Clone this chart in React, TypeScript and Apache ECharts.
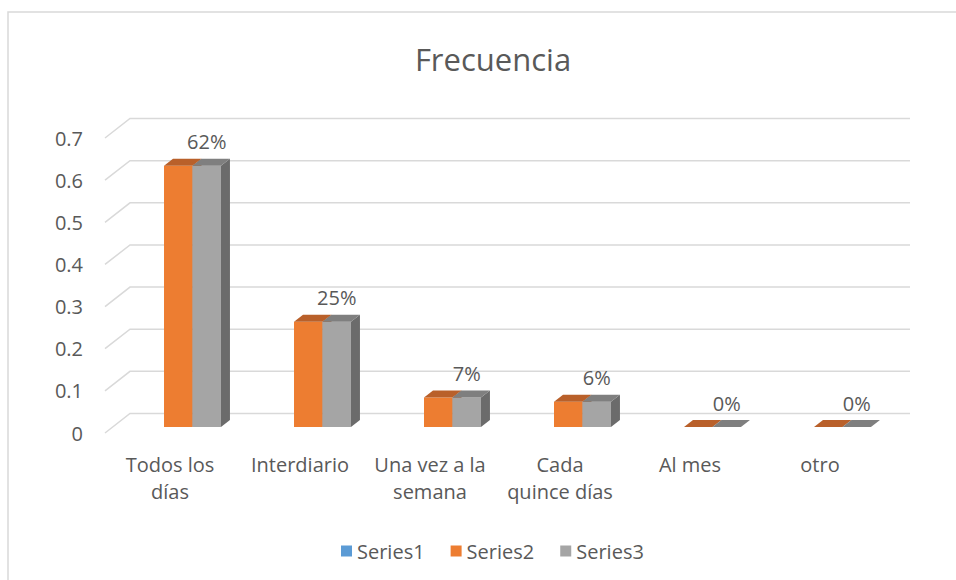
import React, { useEffect, useRef } from "react";
import * as echarts from "echarts";

const categories = ["Todos los\ndías", "Interdiario", "Una vez a la\nsemana", "Cada\nquince días", "Al mes", "otro"];
const series1Values: (number | null)[] = [null, null, null, null, null, null];
const series2Values = [0.62, 0.25, 0.07, 0.06, 0, 0];
const series3Values = [0.62, 0.25, 0.07, 0.06, 0, 0];
const yTicks = [0, 0.1, 0.2, 0.3, 0.4, 0.5, 0.6, 0.7];
const seriesNames = ["Series1", "Series2", "Series3"];

const FONT = "Open Sans";
const TEXT = "#595959";
const GRID_LINE = "#D9D9D9";
const DEPTH_X = 25;
const DEPTH_Y = 19.5;
const BAR_DX = 8.25;
const BAR_DY = -6;
const BAR_DEPTH_X = 9;
const BAR_DEPTH_Y = 7;

const palettes = [
  { front: "#5B9BD5", top: "#41719C", side: "#2E5F8C" },
  { front: "#ED7D31", top: "#B9602A", side: "#AE5A21" },
  { front: "#A5A5A5", top: "#7F7F7F", side: "#6B6B6B" },
];

function makeBarRenderer(slot: number, withLabel: boolean) {
  return (params: any, api: any) => {
    const v = api.value(1);
    if (v === null || v === undefined || isNaN(v)) return null;
    const idx = api.value(0);
    const bandW = api.size([1, 0])[0];
    const slotW = bandW * 0.219;
    const base = api.coord([idx, 0]);
    const topPt = api.coord([idx, v]);
    const cx = base[0] + BAR_DX;
    const x0 = cx - 1.5 * slotW + slot * slotW;
    const x1 = x0 + slotW;
    const yb = base[1] + BAR_DY;
    const yt = topPt[1] + BAR_DY;
    const pal = palettes[slot];
    const children: any[] = [];
    if (yb - yt > 0.01) {
      children.push({
        type: "rect",
        shape: { x: x0, y: yt, width: slotW, height: yb - yt },
        style: { fill: pal.front },
      });
      children.push({
        type: "polygon",
        shape: { points: [[x1, yt], [x1 + BAR_DEPTH_X, yt - BAR_DEPTH_Y], [x1 + BAR_DEPTH_X, yb - BAR_DEPTH_Y], [x1, yb]] },
        style: { fill: pal.side },
      });
    }
    children.push({
      type: "polygon",
      shape: { points: [[x0, yt], [x0 + BAR_DEPTH_X, yt - BAR_DEPTH_Y], [x1 + BAR_DEPTH_X, yt - BAR_DEPTH_Y], [x1, yt]] },
      style: { fill: pal.top },
    });
    if (withLabel) {
      children.push({
        type: "text",
        style: {
          x: (x0 + x1) / 2,
          y: yt - 24,
          text: Math.round(v * 100) + "%",
          align: "center",
          verticalAlign: "middle",
          fontSize: 20,
          fontFamily: FONT,
          fill: TEXT,
        },
      });
    }
    return { type: "group", children };
  };
}

export default function App() {
  const ref = useRef<HTMLDivElement>(null);
  useEffect(() => {
    if (!ref.current) return;
    const chart = echarts.init(ref.current, null, { renderer: "svg" });
    const barData = (vals: (number | null)[]) => vals.map((v, i) => [i, v]);
    chart.setOption({
      animation: false,
      backgroundColor: "#fff",
      textStyle: { fontFamily: FONT },
      title: {
        text: "Frecuencia",
        left: 488,
        top: 38,
        textAlign: "center",
        textStyle: { fontSize: 31, fontWeight: "normal", color: TEXT, fontFamily: FONT },
      },
      legend: {
        data: seriesNames,
        top: 536,
        left: 336,
        itemWidth: 11,
        itemHeight: 11,
        itemGap: 26,
        icon: "rect",
        textStyle: { fontSize: 20, color: TEXT, fontFamily: FONT },
      },
      graphic: [
        {
          type: "rect",
          shape: { x: 8, y: 12, width: 1000, height: 700 },
          style: { fill: "none", stroke: GRID_LINE, lineWidth: 1.5 },
          silent: true,
        },
      ],
      grid: { left: 105, right: 71, top: 138, bottom: 147 },
      xAxis: {
        type: "category",
        data: categories,
        axisLine: { show: false },
        axisTick: { show: false },
        axisLabel: { color: TEXT, fontSize: 20, fontFamily: FONT, margin: 18, lineHeight: 27, interval: 0 },
      },
      yAxis: {
        type: "value",
        min: 0,
        max: 0.7,
        interval: 0.1,
        axisLine: { show: false },
        axisTick: { show: false },
        splitLine: { show: false },
        axisLabel: { color: TEXT, fontSize: 20, fontFamily: FONT, margin: 22 },
      },
      series: [
        {
          type: "custom",
          name: "grid",
          silent: true,
          z: 1,
          data: yTicks.map((t) => [0, t]),
          renderItem: (params: any, api: any) => {
            const cs = params.coordSys;
            const y = api.coord([0, api.value(1)])[1];
            const x = cs.x;
            return {
              type: "polyline",
              shape: { points: [[x, y], [x + DEPTH_X, y - DEPTH_Y], [x + cs.width + DEPTH_X, y - DEPTH_Y]] },
              style: { stroke: GRID_LINE, lineWidth: 1.5, fill: "none" },
            };
          },
        },
        {
          type: "custom",
          name: "Series1",
          z: 2,
          itemStyle: { color: palettes[0].front },
          data: barData(series1Values),
          renderItem: makeBarRenderer(0, false),
        },
        {
          type: "custom",
          name: "Series2",
          z: 3,
          itemStyle: { color: palettes[1].front },
          data: barData(series2Values),
          renderItem: makeBarRenderer(1, false),
        },
        {
          type: "custom",
          name: "Series3",
          z: 4,
          itemStyle: { color: palettes[2].front },
          data: barData(series3Values),
          renderItem: makeBarRenderer(2, true),
        },
      ],
    });
    return () => chart.dispose();
  }, []);
  return <div ref={ref} style={{ position: "fixed", left: 0, top: 0, width: 956, height: 580 }} />;
}
